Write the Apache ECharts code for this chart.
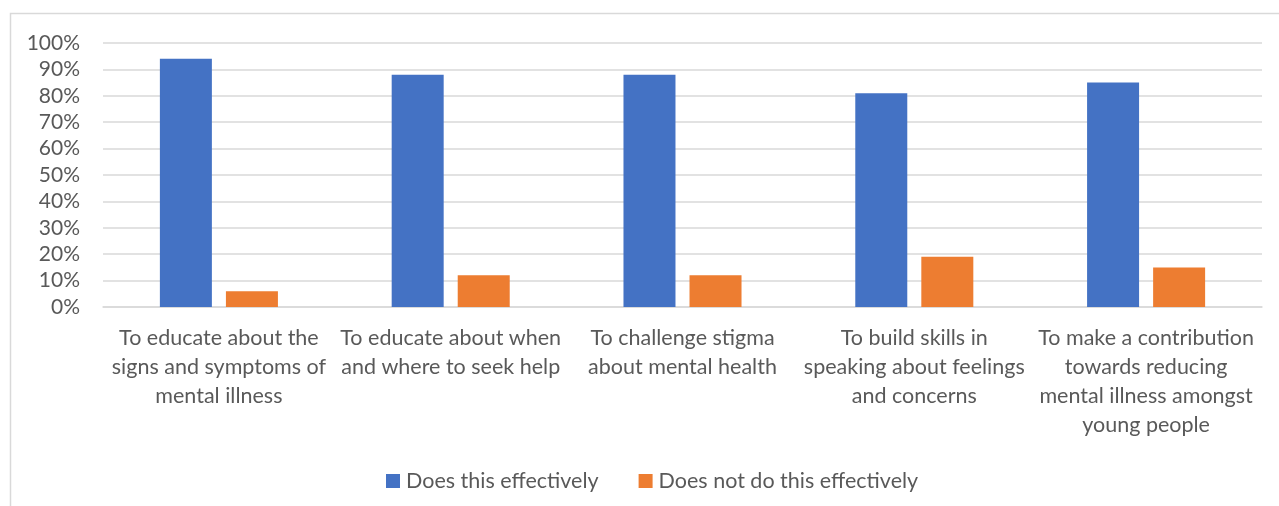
<!DOCTYPE html>
<html>
<head>
<meta charset="utf-8">
<script src="https://cdn.jsdelivr.net/npm/echarts@6/dist/echarts.min.js"></script>
<style>
  html, body { margin: 0; padding: 0; background: #ffffff; }
  #chart { width: 1279px; height: 506px; }
</style>
</head>
<body>
<div id="chart"></div>
<script>
// Purposes of the programme (axis labels, wrapped as printed)
const categories = [
  'To educate about the\nsigns and symptoms of\nmental illness',
  'To educate about when\nand where to seek help',
  'To challenge stigma\nabout mental health',
  'To build skills in\nspeaking about feelings\nand concerns',
  'To make a contribution\ntowards reducing\nmental illness amongst\nyoung people'
];

// Share of respondents, in percent
const doesEffectively = [94, 88, 88, 81, 85];
const doesNotEffectively = [6, 12, 12, 19, 15];

const seriesNames = ['Does this effectively', 'Does not do this effectively'];
const yTicks = { min: 0, max: 100, interval: 10 };

const FONT = 'Lato, "Open Sans", sans-serif';
const TEXT = '#595959';
const GRID = '#d9d9d9';

const chart = echarts.init(document.getElementById('chart'), null, { renderer: 'canvas' });

chart.setOption({
  backgroundColor: '#ffffff',
  animation: false,
  textStyle: { fontFamily: FONT },
  graphic: [{
    type: 'rect',
    shape: { x: 10.5, y: 13.5, width: 1400, height: 600 },
    style: { fill: 'none', stroke: GRID, lineWidth: 1.5 },
    z: -1
  }],
  grid: { left: 103, right: 17, top: 43, bottom: 199, containLabel: false },
  legend: {
    data: seriesNames,
    left: 381,
    top: 465,
    icon: 'rect',
    itemWidth: 14,
    itemHeight: 14,
    itemGap: 40,
    textStyle: { fontFamily: FONT, fontSize: 21.5, color: TEXT, padding: [0, 0, 0, 1] }
  },
  xAxis: {
    type: 'category',
    data: categories,
    axisLine: { show: true, lineStyle: { color: GRID, width: 1.5 } },
    axisTick: { show: false },
    axisLabel: {
      interval: 0,
      margin: 17,
      fontFamily: FONT,
      fontSize: 21.5,
      lineHeight: 29,
      color: TEXT,
      align: 'center'
    }
  },
  yAxis: {
    type: 'value',
    min: yTicks.min,
    max: yTicks.max,
    interval: yTicks.interval,
    axisLine: { show: false },
    axisTick: { show: false },
    splitLine: { lineStyle: { color: GRID, width: 1.5 } },
    axisLabel: {
      formatter: '{value}%',
      margin: 23,
      fontFamily: FONT,
      fontSize: 21,
      color: TEXT
    }
  },
  series: [
    {
      name: seriesNames[0],
      type: 'bar',
      data: doesEffectively,
      barWidth: 52,
      barGap: '27%',
      itemStyle: { color: '#4472c4' }
    },
    {
      name: seriesNames[1],
      type: 'bar',
      data: doesNotEffectively,
      barWidth: 52,
      itemStyle: { color: '#ed7d31' }
    }
  ]
});
</script>
</body>
</html>
